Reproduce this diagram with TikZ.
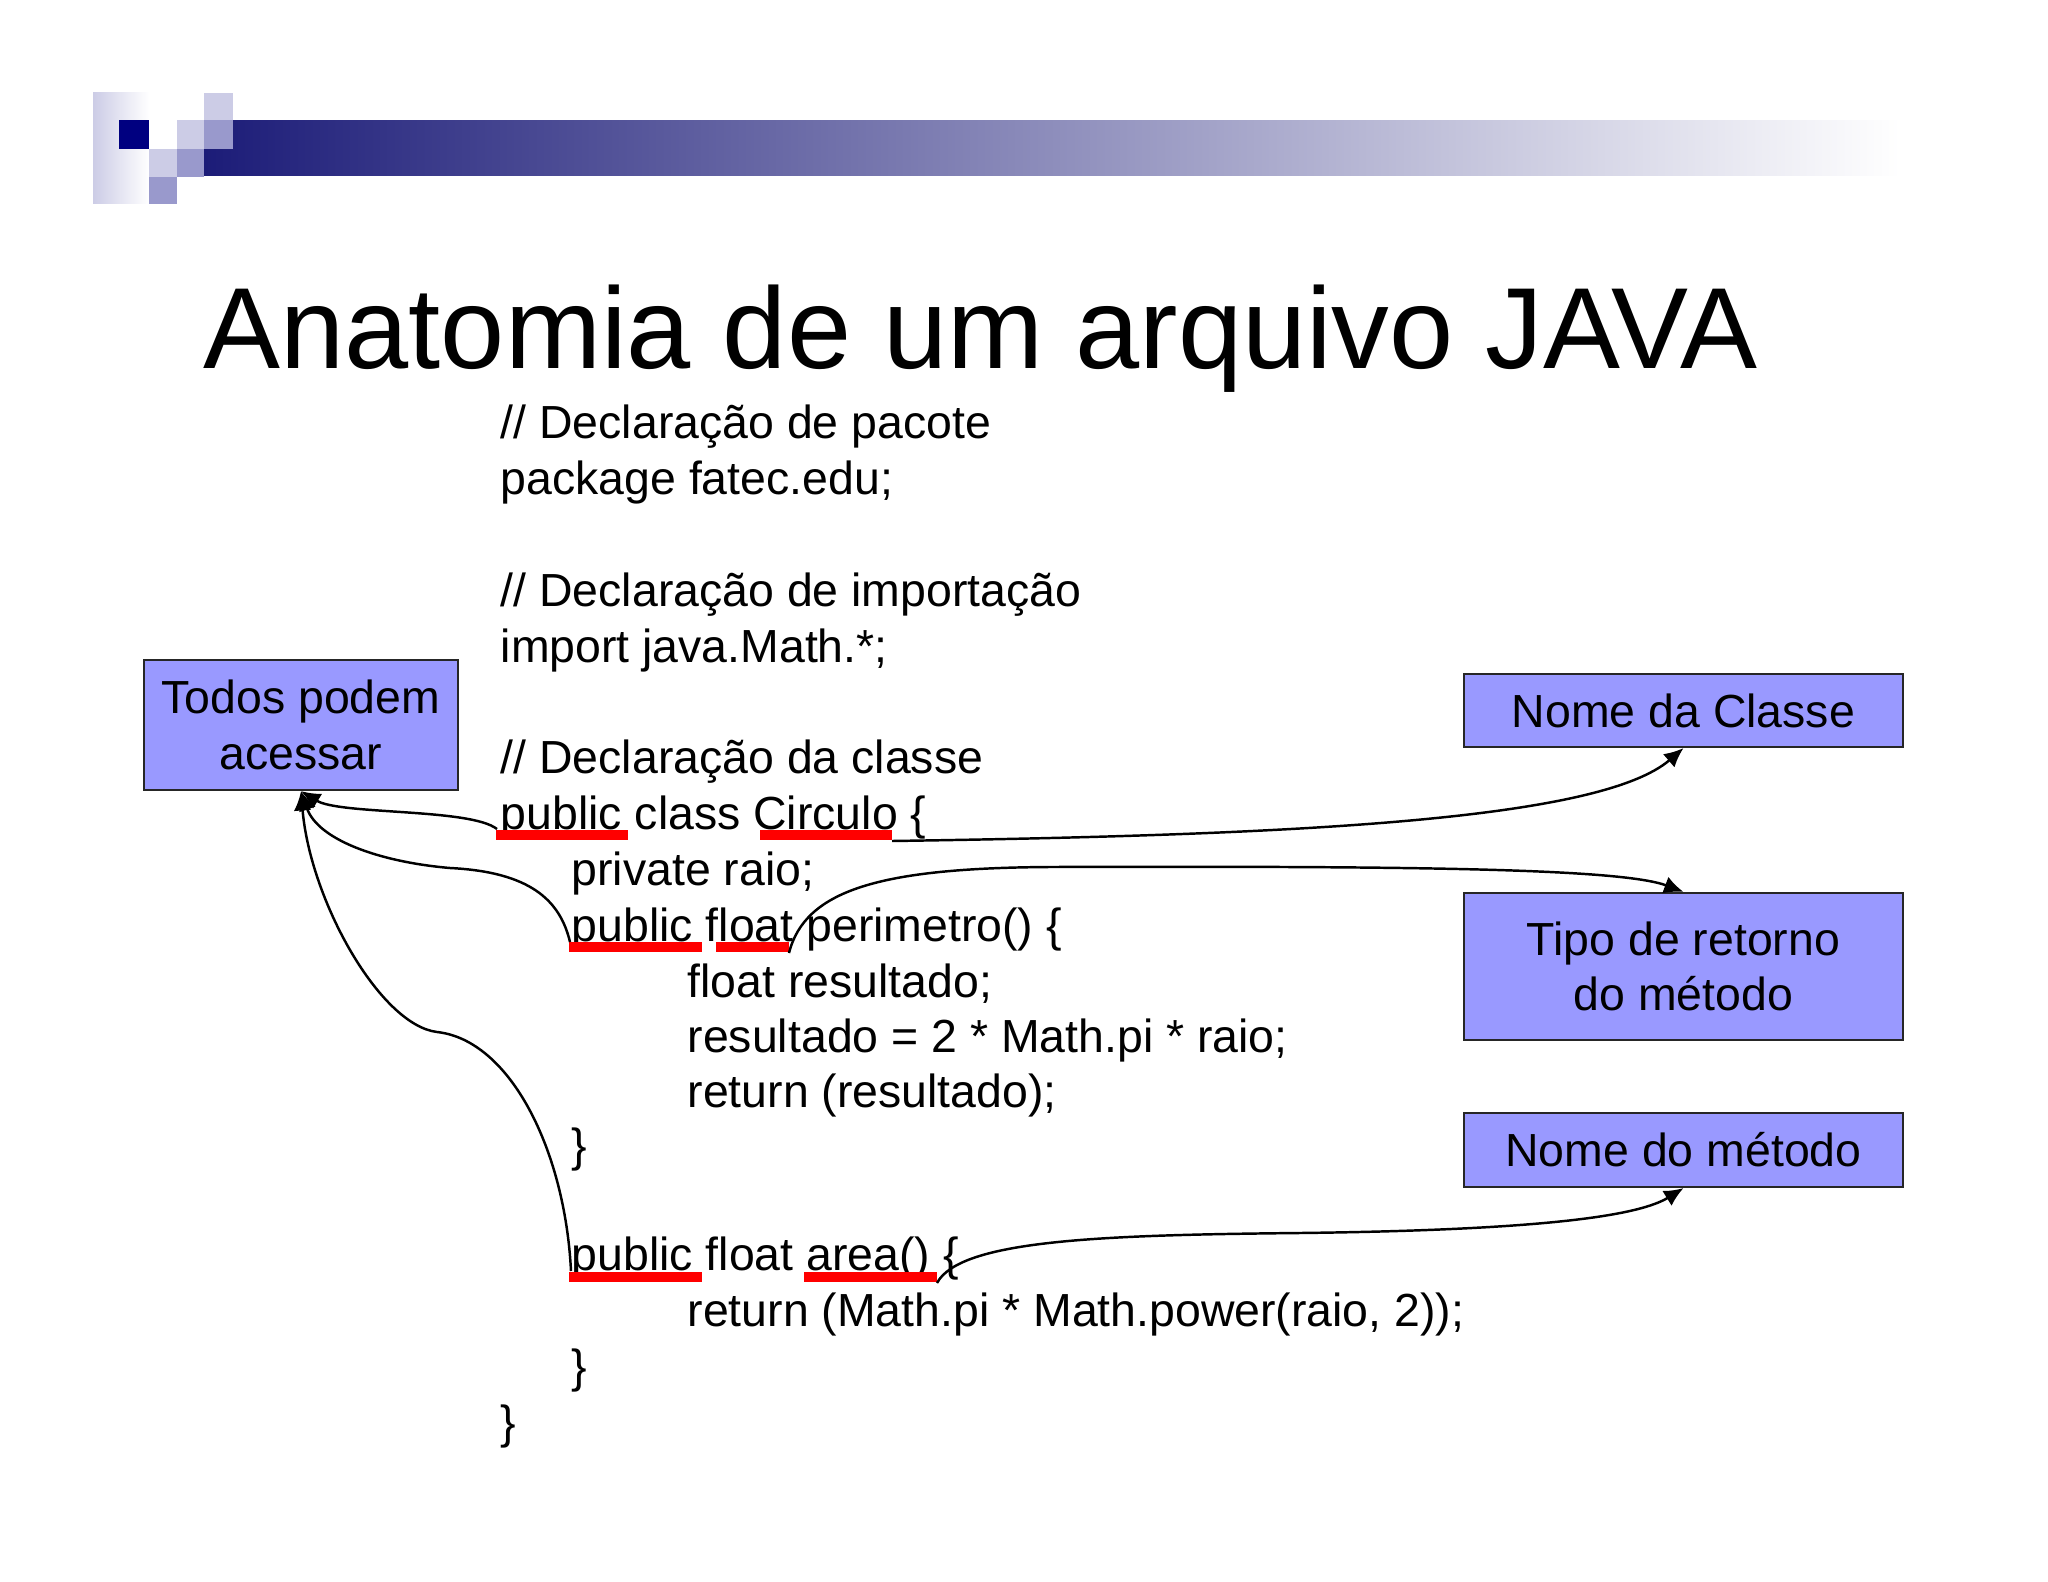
\documentclass[tikz,border=0pt]{standalone}
\usepackage{fontspec}
\setmainfont{Liberation Sans}
\usepackage{tikz}
\usetikzlibrary{arrows.meta,positioning}
\usepackage{xcolor}
\definecolor{boxlav}{HTML}{9999FF}
\definecolor{logonavy}{HTML}{000080}
\definecolor{barnavy}{HTML}{1C1C78}
\definecolor{lavlight}{HTML}{CCCCE6}
\definecolor{lavmid}{HTML}{9999CC}
\definecolor{ulred}{HTML}{FF0000}

\tikzset{
  codeline/.style={anchor=base west, inner sep=0pt,
    font=\fontsize{13.2}{15.8}\selectfont},
  labelbox/.style={draw=black!85, line width=0.6pt, fill=boxlav,
    inner sep=0pt, align=center, minimum width=4.39cm,
    font=\fontsize{13.2}{15.8}\selectfont},
  uline/.style={ulred, line width=3.1pt},
  pointer/.style={line width=0.7pt, -{Latex[length=5.5pt,width=5pt]}}
}

\begin{document}
\begin{tikzpicture}[x=0.01cm, y=-0.01cm]
  \useasboundingbox (0,0) rectangle (2048,1582);
  \fill[white] (0,0) rectangle (2048,1582);

  %% Logo squares and header bar
  \shade[left color=lavlight, right color=white] (93,93) rectangle (149,204);
  \fill[logonavy] (119,120) rectangle (149,149);
  \shade[left color=barnavy, right color=white] (204,121) rectangle (1900,176);
  \fill[lavlight] (204,93) rectangle (233,120);
  \fill[lavmid] (204,120) rectangle (233,149);
  \fill[lavlight] (177,120) rectangle (204,149);
  \fill[lavlight] (149,149) rectangle (177,177);
  \fill[lavmid] (177,149) rectangle (204,177);
  \fill[lavmid] (149,177) rectangle (177,204);

  %% Title
  \node[anchor=base west, inner sep=0pt, font=\fontsize{32.8}{38}\selectfont]
    (title) at (203,368) {Anatomia de um arquivo JAVA};

  %% Source code, one node per line
  \node[codeline] (l0)  at (500,438)  {// Declaração de pacote};
  \node[codeline] (l1)  at (500,494)  {package fatec.edu;};
  \node[codeline] (l3)  at (500,606)  {// Declaração de importação};
  \node[codeline] (l4)  at (500,662)  {import java.Math.*;};
  \node[codeline] (l6)  at (500,773)  {// Declaração da classe};
  \node[codeline] (l7)  at (500,829)  {public class Circulo \{};
  \node[codeline] (l8)  at (571,885)  {private raio;};
  \node[codeline] (l9)  at (571,941)  {public float perimetro() \{};
  \node[codeline] (l10) at (687,997)  {float resultado;};
  \node[codeline] (l11) at (687,1052) {resultado = 2 * Math.pi * raio;};
  \node[codeline] (l12) at (687,1107) {return (resultado);};
  \node[codeline] (l13) at (571,1161) {\}};
  \node[codeline] (l15) at (571,1270) {public float area() \{};
  \node[codeline] (l16) at (687,1326) {return (Math.pi * Math.power(raio, 2));};
  \node[codeline] (l17) at (571,1382) {\}};
  \node[codeline] (l18) at (500,1438) {\}};

  %% Red underlines
  \draw[uline] (496,835) -- (628,835);
  \draw[uline] (760,835) -- (892,835);
  \draw[uline] (569,947) -- (702,947);
  \draw[uline] (716,947) -- (789,947);
  \draw[uline] (569,1277) -- (702,1277);
  \draw[uline] (804,1277) -- (937,1277);

  %% Start points of the pointers
  \coordinate (pubcls)  at (497,829);
  \coordinate (pubperi) at (570,942);
  \coordinate (pubarea) at (571,1271);
  \coordinate (circ)    at (892,841);
  \coordinate (flt)     at (789,953);
  \coordinate (areanm)  at (937,1283);

  %% Label boxes
  \node[labelbox, minimum width=3.14cm, minimum height=1.30cm]
    (todos) at (301,725) {Todos podem\\acessar};
  \node[labelbox, minimum height=0.73cm] (classe) at (1683.5,710.5) {Nome da Classe};
  \node[labelbox, minimum height=1.47cm] (retorno) at (1683.5,966.5) {Tipo de retorno\\do método};
  \node[labelbox, minimum height=0.74cm] (metodo) at (1683.5,1150) {Nome do método};

  %% Pointers to the boxes
  \draw[pointer] (pubcls) .. controls (470,808) and (340,815) .. (todos.south);
  \draw[pointer] (pubperi) .. controls (560,900) and (530,872) .. (450,868)
    .. controls (380,862) and (318,840) .. (todos.south);
  \draw[pointer] (pubarea) .. controls (565,1150) and (510,1040) .. (437,1032)
    .. controls (380,1025) and (310,900) .. (todos.south);
  \draw[pointer] (circ) .. controls (1300,835) and (1600,820) .. (classe.south);
  \draw[pointer] (flt) .. controls (805,890) and (880,868) .. (1050,867)
    .. controls (1400,866) and (1620,868) .. (retorno.north);
  \draw[pointer] (areanm) .. controls (960,1240) and (1100,1235) .. (1300,1233)
    .. controls (1550,1230) and (1640,1215) .. (metodo.south);
\end{tikzpicture}
\end{document}
